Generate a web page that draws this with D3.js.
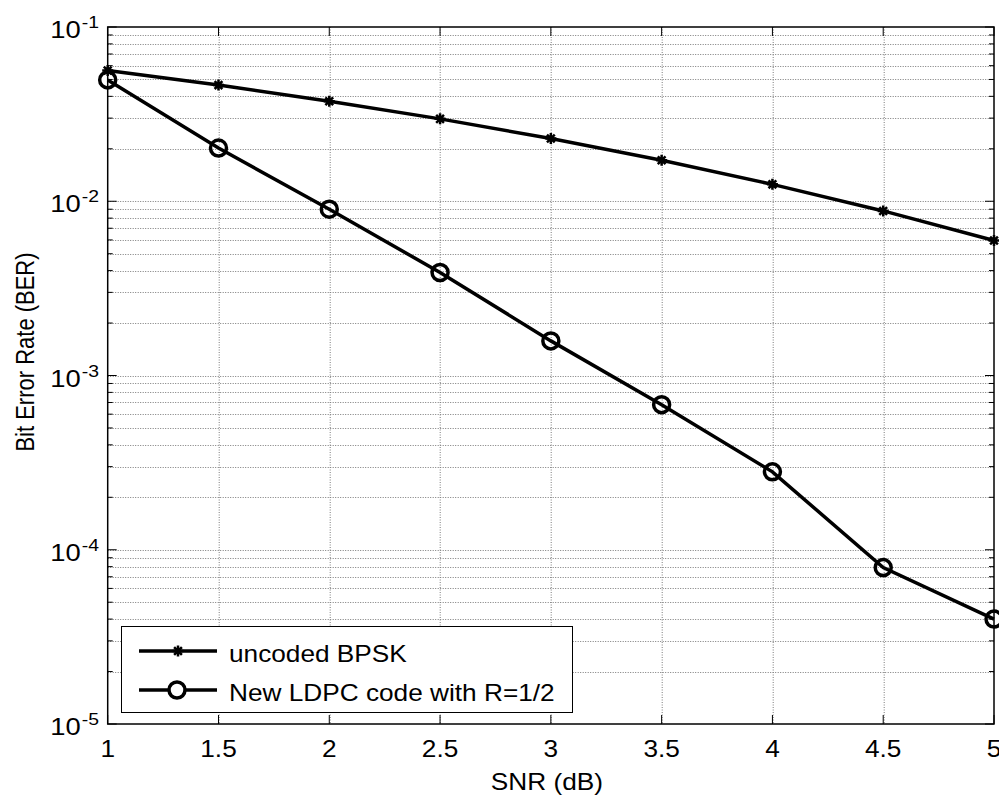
<!DOCTYPE html>
<html>
<head>
<meta charset="utf-8">
<script src="https://cdn.jsdelivr.net/npm/d3@7"></script>
<style>
  body { margin: 0; background: #fff; }
  text { font-family: "Liberation Sans", Arial, sans-serif; fill: #000; }
</style>
</head>
<body>
<div id="chart"></div>
<script>
// data
var snr = [1, 1.5, 2, 2.5, 3, 3.5, 4, 4.5, 5];
var berUncoded = [0.0563, 0.0464, 0.0375, 0.0297, 0.0229, 0.0172, 0.0125, 0.0088, 0.00595];
var berLdpc = [0.0497, 0.0202, 0.0090, 0.0039, 0.00158, 0.00068, 0.00028, 0.000079, 0.00004];
var xTicks = [1, 1.5, 2, 2.5, 3, 3.5, 4, 4.5, 5];
var yExponents = [-1, -2, -3, -4, -5];
var seriesNames = ["uncoded BPSK", "New LDPC code with R=1/2"];

var W = 999, H = 797;
var margin = {left: 107.7, top: 27, right: 5, bottom: 73};
var width = W - margin.left - margin.right,
    height = H - margin.top - margin.bottom;
var sx = 1.14; // glyphs in the picture look a little stretched sideways

var svg = d3.select("#chart").append("svg")
    .attr("width", W)
    .attr("height", H);

svg.append("rect").attr("width", W).attr("height", H).attr("fill", "#fff");

var g = svg.append("g")
    .attr("transform", "translate(" + margin.left + "," + margin.top + ")");

var x = d3.scaleLinear().domain([1, 5]).range([0, width]);
var y = d3.scaleLog().domain([1e-5, 1e-1]).range([height, 0]);

// minor values for log grid
var minors = [];
for (var e = -5; e < -1; e++) {
    for (var m = 2; m <= 9; m++) minors.push(m * Math.pow(10, e));
}
var majors = yExponents.map(function (d) { return Math.pow(10, d); });

// grid
var grid = g.append("g")
    .attr("stroke", "#7a7a7a")
    .attr("stroke-width", 1)
    .attr("stroke-dasharray", "1,1.5");

grid.selectAll(".gy").data(minors.concat(majors.slice(1, 4)))
    .enter().append("line")
    .attr("x1", 0).attr("x2", width)
    .attr("y1", function (d) { return Math.round(y(d)) + 0.5; })
    .attr("y2", function (d) { return Math.round(y(d)) + 0.5; });

grid.selectAll(".gx").data(xTicks.slice(1, -1))
    .enter().append("line")
    .attr("y1", 0).attr("y2", height)
    .attr("x1", function (d) { return Math.round(x(d)) + 0.5; })
    .attr("x2", function (d) { return Math.round(x(d)) + 0.5; });

// ticks, inward on all four sides
var tk = g.append("g").attr("stroke", "#000").attr("stroke-width", 1);
function yTick(v, len) {
    var yy = y(v);
    tk.append("line").attr("x1", 0).attr("x2", len).attr("y1", yy).attr("y2", yy);
    tk.append("line").attr("x1", width).attr("x2", width - len).attr("y1", yy).attr("y2", yy);
}
minors.forEach(function (v) { yTick(v, 5); });
majors.forEach(function (v) { yTick(v, 9); });
xTicks.forEach(function (v) {
    var xx = x(v);
    tk.append("line").attr("x1", xx).attr("x2", xx).attr("y1", height).attr("y2", height - 9);
    tk.append("line").attr("x1", xx).attr("x2", xx).attr("y1", 0).attr("y2", 9);
});

// box
g.append("rect")
    .attr("width", width).attr("height", height)
    .attr("fill", "none").attr("stroke", "#000").attr("stroke-width", 1.5);

// tick labels
xTicks.forEach(function (v) {
    g.append("text")
        .attr("transform", "translate(" + x(v) + "," + (height + 33) + ") scale(" + sx + ",1)")
        .attr("text-anchor", "middle")
        .attr("font-size", 23)
        .text(v);
});
yExponents.forEach(function (p) {
    var yy = y(Math.pow(10, p));
    g.append("text")
        .attr("transform", "translate(-27," + (yy + 11) + ") scale(" + sx + ",1)")
        .attr("text-anchor", "end")
        .attr("font-size", 24)
        .text("10");
    g.append("text")
        .attr("transform", "translate(-26," + (yy + 1) + ") scale(" + sx + ",1)")
        .attr("text-anchor", "start")
        .attr("font-size", 17)
        .text(p);
});

// axis titles
g.append("text")
    .attr("transform", "translate(" + (width / 2 - 4) + "," + (height + 66) + ") scale(" + sx + ",1)")
    .attr("text-anchor", "middle")
    .attr("font-size", 23)
    .text("SNR (dB)");

svg.append("text")
    .attr("transform", "translate(34,352) rotate(-90) scale(1," + sx + ")")
    .attr("text-anchor", "middle")
    .attr("font-size", 22)
    .text("Bit Error Rate (BER)");

// lines
var line = d3.line()
    .x(function (d) { return x(d[0]); })
    .y(function (d) { return y(d[1]); });

var plot = g.append("g");
var uncoded = d3.zip(snr, berUncoded);
var ldpc = d3.zip(snr, berLdpc);

plot.append("path").datum(uncoded)
    .attr("d", line).attr("fill", "none")
    .attr("stroke", "#000").attr("stroke-width", 3.5);
plot.append("path").datum(ldpc)
    .attr("d", line).attr("fill", "none")
    .attr("stroke", "#000").attr("stroke-width", 3.5);

// asterisk marker
function star(r) {
    var a = r * 0.7071;
    return "M" + (-r) + ",0L" + r + ",0M0," + (-r) + "L0," + r +
        "M" + (-a) + "," + (-a) + "L" + a + "," + a +
        "M" + (-a) + "," + a + "L" + a + "," + (-a);
}

plot.selectAll(".star").data(uncoded)
    .enter().append("path")
    .attr("transform", function (d) { return "translate(" + x(d[0]) + "," + y(d[1]) + ")"; })
    .attr("d", star(5.5))
    .attr("fill", "none").attr("stroke", "#000").attr("stroke-width", 2.5);

plot.selectAll(".circ").data(ldpc)
    .enter().append("circle")
    .attr("cx", function (d) { return x(d[0]); })
    .attr("cy", function (d) { return y(d[1]); })
    .attr("r", 8)
    .attr("fill", "none").attr("stroke", "#000").attr("stroke-width", 3.5);

// legend
var leg = svg.append("g");
leg.append("rect")
    .attr("x", 121.5).attr("y", 626.5)
    .attr("width", 451).attr("height", 86)
    .attr("fill", "#fff").attr("stroke", "#000").attr("stroke-width", 1);

var rows = [651, 690];
rows.forEach(function (ry, i) {
    leg.append("line")
        .attr("x1", 139).attr("x2", 217).attr("y1", ry).attr("y2", ry)
        .attr("stroke", "#000").attr("stroke-width", 3.5);
    if (i === 0) {
        leg.append("path")
            .attr("transform", "translate(178," + ry + ")")
            .attr("d", star(5.5))
            .attr("fill", "none").attr("stroke", "#000").attr("stroke-width", 2.5);
    } else {
        leg.append("circle")
            .attr("cx", 177).attr("cy", ry).attr("r", 8)
            .attr("fill", "#fff").attr("stroke", "#000").attr("stroke-width", 3.5);
    }
    leg.append("text")
        .attr("transform", "translate(229," + (ry + 11) + ") scale(" + sx + ",1)")
        .attr("font-size", 23)
        .text(seriesNames[i]);
});
</script>
</body>
</html>
